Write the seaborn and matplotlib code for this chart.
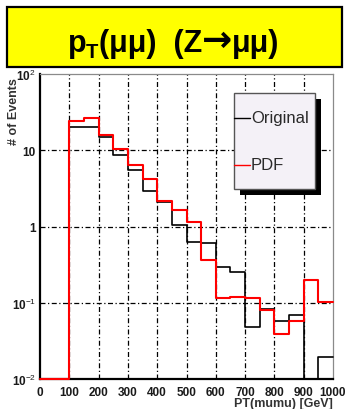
import numpy as np
import pandas as pd
import matplotlib
matplotlib.use("Agg")
import matplotlib.pyplot as plt
from matplotlib.patches import Rectangle
from matplotlib.lines import Line2D
from matplotlib.ticker import FixedLocator, LogLocator, NullFormatter, MultipleLocator
import seaborn as sns

# 50 GeV bins from 0 to 1000 GeV
bin_edges = list(range(0, 1050, 50))
original = [0, 0, 20.4, 20.4, 14.8, 8.6, 5.5, 2.9, 2.1, 1.04,
            0.63, 0.60, 0.29, 0.25, 0.048, 0.082, 0.058, 0.070, 0, 0.0196]
pdf = [0, 0, 24.2, 26.7, 15.8, 10.5, 6.5, 4.16, 2.14, 1.64,
       1.16, 0.36, 0.115, 0.12, 0.114, 0.080, 0.039, 0.058, 0.199, 0.101]
series_names = ["Original", "PDF"]
series_colors = {"Original": "black", "PDF": "#ff0000"}

x_tick_values = [0, 100, 200, 300, 400, 500, 600, 700, 800, 900, 1000]
x_tick_labels = ["0", "100", "200", "300", "400", "500", "600", "700", "800", "900", "1000"]
y_tick_values = [1e-2, 1e-1, 1, 10, 100]
y_tick_labels = ["10$^{-2}$", "10$^{-1}$", "1", "10", "10$^{2}$"]
y_min, y_max = 1e-2, 1e2

sns.set_style("white")
plt.rcParams["font.family"] = ["Liberation Sans", "DejaVu Sans"]
plt.rcParams["mathtext.fontset"] = "custom"
plt.rcParams["mathtext.rm"] = "Liberation Sans"
plt.rcParams["mathtext.bf"] = "Liberation Sans:bold"

W, H = 346, 410
fig = plt.figure(figsize=(W / 100, H / 100), dpi=100)
ax = fig.add_axes([40 / W, 1 - 380 / H, 293 / W, 305 / H])

edges = np.array(bin_edges, dtype=float)
centers = (edges[:-1] + edges[1:]) / 2
frames = []
for name, vals in zip(series_names, [original, pdf]):
    frames.append(pd.DataFrame({"pt": centers, "events": vals, "series": name}))
df = pd.concat(frames, ignore_index=True)
# empty bins are drawn along the lower edge of the log axis
df["shown"] = np.maximum(df["events"], y_min)

ax.set_yscale("log")
widths = {"Original": 1.2, "PDF": 1.5}
for name in series_names:
    sub = df[df["series"] == name].reset_index(drop=True)
    sns.histplot(data=sub, x="pt", weights="shown", bins=bin_edges,
                 element="step", fill=False, color=series_colors[name],
                 linewidth=widths[name], ax=ax)
for ln in ax.lines:
    ln.set_clip_on(False)
    ln.set_zorder(3)

ax.set_xlim(0, 1000)
ax.set_ylim(y_min, y_max)

# dash-dot grid at interior major ticks
grid_ls = (0, (4, 2, 1, 2))
for xv in x_tick_values[1:-1]:
    ax.axvline(xv, color="black", lw=0.9, ls=grid_ls, zorder=1)
for yv in y_tick_values[1:-1]:
    ax.axhline(yv, color="black", lw=0.9, ls=grid_ls, zorder=1)

ax.xaxis.set_major_locator(FixedLocator(x_tick_values))
ax.set_xticklabels(x_tick_labels)
ax.xaxis.set_minor_locator(MultipleLocator(20))
ax.yaxis.set_major_locator(FixedLocator(y_tick_values))
ax.set_yticklabels(y_tick_labels)
ax.yaxis.set_minor_locator(LogLocator(base=10, subs=np.arange(2, 10)))
ax.yaxis.set_minor_formatter(NullFormatter())
ax.tick_params(which="both", direction="in", top=False, right=False,
               labelsize=8.5, labelcolor="#1a1a1a", width=1.0, color="black")
ax.tick_params(which="major", length=6)
ax.tick_params(axis="x", which="major", pad=5)
ax.tick_params(axis="y", which="major", pad=3)
ax.tick_params(which="minor", length=3)
for lab in ax.get_xticklabels() + ax.get_yticklabels():
    lab.set_fontweight("bold")

for side in ["left", "bottom"]:
    ax.spines[side].set_color("black")
    ax.spines[side].set_linewidth(1.6)
for side in ["top", "right"]:
    ax.spines[side].set_color("#8a8a8a")
    ax.spines[side].set_linewidth(0.9)

ax.set_ylabel("# of Events", fontsize=9, fontweight="bold", color="#333333",
              loc="top")
ax.yaxis.set_label_coords(-0.068, 0.99)
ax.set_xlabel("PT(mumu) [GeV]", fontsize=9, fontweight="bold", color="#333333",
              loc="right")
ax.xaxis.set_label_coords(1.0, -0.08)
ax.xaxis.label.set_va("center")

# legend box with solid drop shadow
lx0, ly0, lw_, lh_ = 0.662, 0.623, 0.277, 0.315
sx, sy = 6 / 293, 6 / 305
ax.add_patch(Rectangle((lx0 + sx, ly0 - sy), lw_, lh_, transform=ax.transAxes,
                       facecolor="black", edgecolor="none", zorder=5))
ax.add_patch(Rectangle((lx0, ly0), lw_, lh_, transform=ax.transAxes,
                       facecolor="#f4f1f7", edgecolor="#555555", lw=1.0, zorder=6))
entry_y = {"Original": 0.856, "PDF": 0.702}
for name in series_names:
    yy = entry_y[name]
    ax.add_line(Line2D([lx0, lx0 + 0.055], [yy, yy], transform=ax.transAxes,
                       color=series_colors[name], lw=1.0, zorder=7))
    ax.text(lx0 + 0.058, yy, name, transform=ax.transAxes, ha="left", va="center",
            fontsize=12, color="#2a2a2a", zorder=7)

# yellow title banner
fig.add_artist(Rectangle((7 / W, 1 - 68 / H), 335 / W, 60 / H,
                         transform=fig.transFigure, facecolor="#ffff00",
                         edgecolor="black", lw=1.6))

# title laid out piece by piece: p, subscript T, text, bold arrow, text
title_pieces = [
    ("p", dict(fontsize=22), 0),
    ("T", dict(fontsize=14.5), -6),
    ("(μμ)  (Z", dict(fontsize=22), 0),
    ("→", dict(fontsize=26, family="DejaVu Sans"), 1),
    ("μμ)", dict(fontsize=22), 0),
]
renderer = fig.canvas.get_renderer()
baseline_px = H - 52
texts = []
for s, kw, dy in title_pieces:
    t = fig.text(0, 0, s, ha="left", va="baseline", fontweight="bold",
                 color="black", transform=None, **kw)
    texts.append((t, dy))
widths_px = [t.get_window_extent(renderer).width for t, _ in texts]
total = sum(widths_px)
x_cur = 173.5 - total / 2
for (t, dy), wpx in zip(texts, widths_px):
    t.set_position((x_cur, baseline_px + dy))
    x_cur += wpx

fig.savefig("out.png", dpi=100)
